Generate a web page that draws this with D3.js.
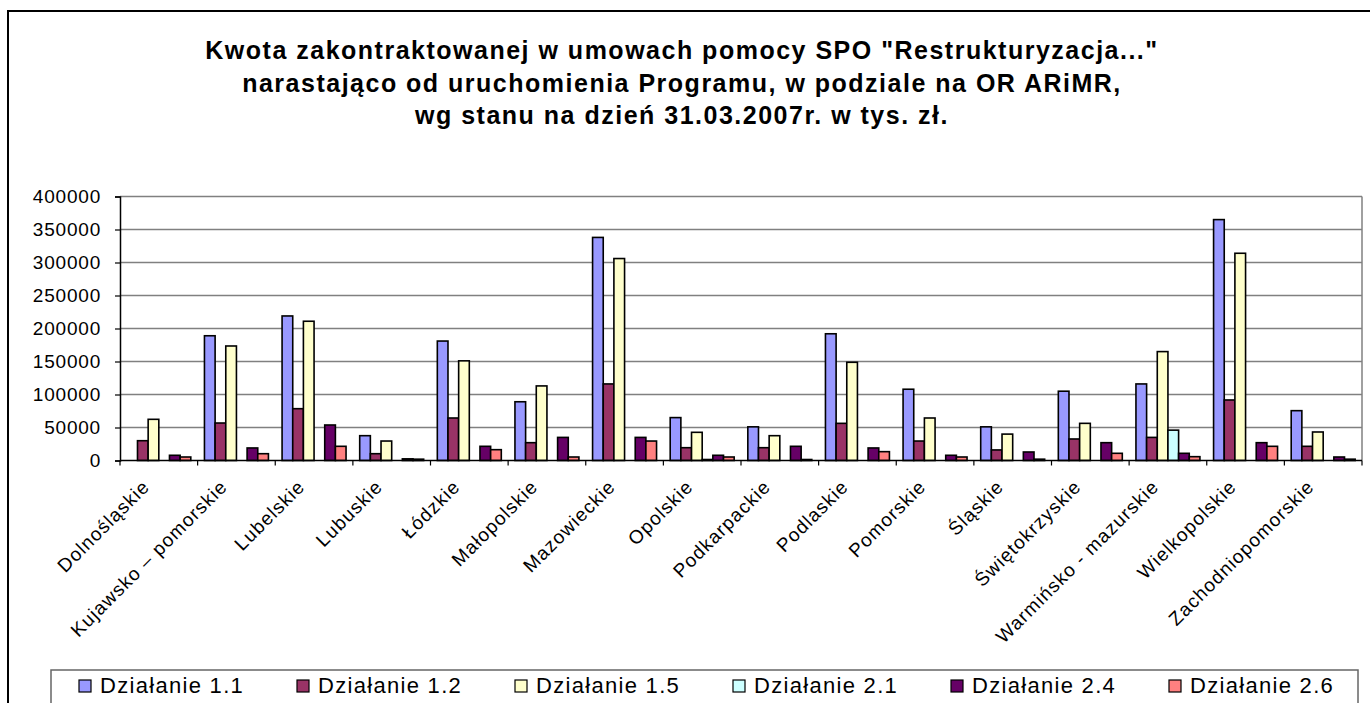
<!DOCTYPE html>
<html>
<head>
<meta charset="utf-8">
<script src="https://cdn.jsdelivr.net/npm/d3@7"></script>
<style>
  html, body { margin: 0; padding: 0; background: #fff; }
  svg { display: block; font-family: "Liberation Sans", Arial, sans-serif; }
</style>
</head>
<body>
<svg id="chart" width="1370" height="703"></svg>
<script>
const categories = ["Dolnośląskie", "Kujawsko – pomorskie", "Lubelskie", "Lubuskie", "Łódzkie",
  "Małopolskie", "Mazowieckie", "Opolskie", "Podkarpackie", "Podlaskie", "Pomorskie",
  "Śląskie", "Świętokrzyskie", "Warmińsko - mazurskie", "Wielkopolskie", "Zachodniopomorskie"];
const seriesNames = ["Działanie 1.1", "Działanie 1.2", "Działanie 1.5", "Działanie 2.1", "Działanie 2.4", "Działanie 2.6"];
const seriesColors = ["#9999FF", "#993366", "#FFFFCC", "#CCFFFF", "#660066", "#FF8080"];
const d11 = [0, 189000, 219000, 37600, 181000, 89000, 338000, 65000, 51000, 192000, 108000, 51000, 105000, 116000, 365000, 75500];
const d12 = [30000, 56800, 78500, 10300, 64400, 27000, 116000, 19400, 19400, 56300, 29500, 16000, 32600, 35000, 91700, 21500];
const d15 = [62400, 173500, 211000, 29500, 151000, 113000, 306000, 42700, 37600, 148800, 64400, 40000, 56300, 165000, 314000, 43200];
const d21 = [0, 0, 0, 0, 0, 0, 0, 1500, 0, 0, 0, 0, 0, 46000, 0, 0];
const d24 = [7900, 19000, 53800, 2500, 21500, 35000, 35000, 7900, 21500, 19000, 7900, 12900, 27000, 10900, 27000, 5300];
const d26 = [5300, 10300, 21500, 2000, 16400, 5300, 29500, 5300, 1500, 13400, 5300, 2000, 10900, 5800, 21500, 2000];
const yTicks = [0, 50000, 100000, 150000, 200000, 250000, 300000, 350000, 400000];
const titleLines = [
  "Kwota zakontraktowanej w umowach pomocy SPO \"Restrukturyzacja...\"",
  "narastająco od uruchomienia Programu, w podziale na OR ARiMR,",
  "wg stanu na dzień 31.03.2007r. w tys. zł."
];

const seriesValues = [d11, d12, d15, d21, d24, d26];
const rows = categories.map((c, i) => ({cat: c, vals: seriesNames.map((s, j) => ({s, j, v: seriesValues[j][i]}))}));

const svg = d3.select("#chart");
const plot = {left: 120, right: 1362, top: 196.5, bottom: 460.5};

// outer chart border
svg.append("rect").attr("x", 8).attr("y", 11).attr("width", 1400).attr("height", 800)
  .attr("fill", "#fff").attr("stroke", "#000").attr("stroke-width", 2);

// title
svg.append("g").selectAll("text").data(titleLines).join("text")
  .attr("x", 682).attr("y", (d, i) => 59 + i * 32.5)
  .attr("text-anchor", "middle")
  .attr("font-size", 25).attr("font-weight", "bold")
  .attr("letter-spacing", 1.5)
  .text(d => d);

const x0 = d3.scaleBand().domain(categories).range([plot.left, plot.right]).paddingInner(0).paddingOuter(0);
const x1 = d3.scaleBand().domain(seriesNames).range([0, x0.bandwidth()]).paddingInner(0).paddingOuter(0.64);
const y = d3.scaleLinear().domain([0, 400000]).range([plot.bottom, plot.top]);

// gridlines
svg.append("g").selectAll("line").data(yTicks.filter(t => t > 0)).join("line")
  .attr("x1", plot.left).attr("x2", plot.right)
  .attr("y1", d => y(d)).attr("y2", d => y(d))
  .attr("stroke", "#808080").attr("stroke-width", 1.5);
svg.append("line").attr("x1", plot.right).attr("x2", plot.right)
  .attr("y1", plot.top).attr("y2", plot.bottom).attr("stroke", "#808080").attr("stroke-width", 1.5);

// bars
const groups = svg.append("g").selectAll("g").data(rows).join("g")
  .attr("transform", d => `translate(${x0(d.cat)},0)`);
groups.selectAll("rect").data(d => d.vals.filter(v => v.v > 0)).join("rect")
  .attr("x", d => x1(d.s)).attr("width", x1.bandwidth())
  .attr("y", d => y(d.v)).attr("height", d => y(0) - y(d.v))
  .attr("fill", d => seriesColors[d.j]).attr("stroke", "#000").attr("stroke-width", 1.6);

// y axis
const yAxis = d3.axisLeft(y).tickValues(yTicks).tickSize(5).tickPadding(14).tickFormat(d3.format("d"));
const ya = svg.append("g").attr("transform", `translate(${plot.left},0)`).call(yAxis);
ya.select(".domain").attr("stroke", "#000").attr("stroke-width", 1.5);
ya.selectAll(".tick line").attr("stroke", "#000").attr("stroke-width", 1.2);
ya.selectAll(".tick text").attr("font-size", 19).attr("letter-spacing", 0.8)
  .attr("font-family", "Liberation Sans, Arial, sans-serif").attr("fill", "#000");

// x axis
const xa = svg.append("g").attr("transform", `translate(0,${plot.bottom})`);
xa.append("line").attr("x1", plot.left).attr("x2", plot.right).attr("stroke", "#000").attr("stroke-width", 1.5);
const bounds = categories.map(c => x0(c)).concat([plot.right]);
xa.selectAll("line.tk").data(bounds).join("line").attr("class", "tk")
  .attr("x1", d => d).attr("x2", d => d).attr("y1", 0).attr("y2", 5)
  .attr("stroke", "#000").attr("stroke-width", 1.2);
svg.append("g").selectAll("text").data(categories).join("text")
  .attr("transform", d => `translate(${x0(d) + x0.bandwidth() / 2 - 8},488) rotate(-45)`)
  .attr("text-anchor", "end")
  .attr("font-size", 19).attr("letter-spacing", 1.1)
  .text(d => d);

// legend
const legend = svg.append("g");
legend.append("rect").attr("x", 51).attr("y", 670).attr("width", 1307).attr("height", 60)
  .attr("fill", "#fff").attr("stroke", "#666").attr("stroke-width", 1.5);
const li = legend.selectAll("g.item").data(seriesNames).join("g").attr("class", "item")
  .attr("transform", (d, i) => `translate(${79 + i * 218},0)`);
li.append("rect").attr("x", 0).attr("y", 680).attr("width", 12).attr("height", 12)
  .attr("fill", (d, i) => seriesColors[i]).attr("stroke", "#000").attr("stroke-width", 1.2);
li.append("text").attr("x", 21).attr("y", 693).attr("font-size", 22).attr("letter-spacing", 1.3)
  .text(d => d);
</script>
</body>
</html>
